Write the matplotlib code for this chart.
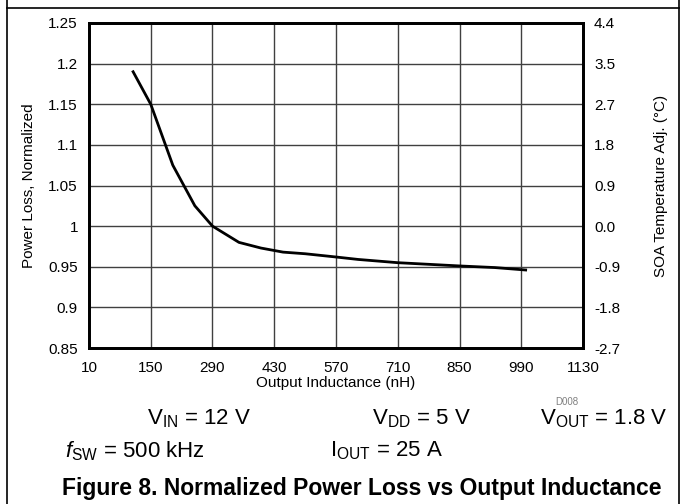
import matplotlib
matplotlib.use("Agg")
from matplotlib import pyplot as plt
from matplotlib.lines import Line2D

plt.rcParams['font.family'] = ['Liberation Sans', 'DejaVu Sans']
plt.rcParams['mathtext.fontset'] = 'custom'
plt.rcParams['mathtext.rm'] = 'Liberation Sans'
plt.rcParams['mathtext.it'] = 'Liberation Sans:italic'

# data
inductance = [110, 150, 200, 250, 290, 350, 400, 450, 500, 570, 620, 710, 850, 930, 1000]
power_loss = [1.19, 1.15, 1.075, 1.025, 1.0, 0.98, 0.973, 0.968, 0.966, 0.962, 0.959,
              0.955, 0.951, 0.949, 0.946]

x_ticks = [10, 150, 290, 430, 570, 710, 850, 990, 1130]
y_ticks = [0.85, 0.9, 0.95, 1.0, 1.05, 1.1, 1.15, 1.2, 1.25]
y_labels = ["0.85", "0.9", "0.95", "1", "1.05", "1.1", "1.15", "1.2", "1.25"]
temp_labels = ["-2.7", "-1.8", "-0.9", "0.0", "0.9", "1.8", "2.7", "3.5", "4.4"]

fig = plt.figure(figsize=(6.81, 5.04), dpi=100)
W, H = 681.0, 504.0
ax = fig.add_axes([89 / W, 1 - 348 / H, (583 - 89) / W, (348 - 23) / H])

ax.plot(inductance, power_loss, color="#000000", linewidth=2, solid_joinstyle="round")
ax.set_xlim(10, 1130)
ax.set_ylim(0.85, 1.25)
ax.set_xticks(x_ticks)
ax.set_yticks(y_ticks)
ax.set_yticklabels(y_labels)
ax.grid(True, color="#404040", linewidth=1)
ax.tick_params(length=0, labelsize=11)
ax.tick_params(axis="x", pad=9)
ax.tick_params(axis="y", pad=8)
for s in ax.spines.values():
    s.set_linewidth(2)
ax.set_xlabel("Output Inductance (nH)", fontsize=11, labelpad=1)
ax.set_ylabel("Power Loss, Normalized", fontsize=11, labelpad=9)

ax2 = ax.twinx()
ax2.set_ylim(0.85, 1.25)
ax2.set_yticks(y_ticks)
ax2.set_yticklabels(temp_labels)
ax2.tick_params(length=0, labelsize=11, pad=8)
for s in ax2.spines.values():
    s.set_linewidth(2)
ax2.set_ylabel("SOA Temperature Adj. (\u00b0C)", fontsize=11, labelpad=24)

fig.text(555 / W, 1 - 402 / H, "D008", fontsize=7, color="#808080", ha="left", va="center")

cond = dict(fontsize=16, va="center", ha="left")
fig.text(147 / W, 1 - 419 / H, r"V$_{\mathrm{IN}}$ = 12 V", **cond)
fig.text(372 / W, 1 - 419 / H, r"V$_{\mathrm{DD}}$ = 5 V", **cond)
fig.text(540 / W, 1 - 419 / H, r"V$_{\mathrm{OUT}}$ = 1.8 V", **cond)
fig.text(65 / W, 1 - 451 / H, r"$f$$_{\mathrm{SW}}$ = 500 kHz", **cond)
fig.text(330 / W, 1 - 451 / H, r"I$_{\mathrm{OUT}}$ = 25 A", **cond)

fig.text(362 / W, 1 - 488 / H, "Figure 8. Normalized Power Loss vs Output Inductance",
         fontsize=16.5, fontweight="bold", ha="center", va="center")

# page frame
fig.add_artist(Line2D([7 / W, 679 / W], [1 - 8 / H, 1 - 8 / H], color="black", linewidth=1.2))
fig.add_artist(Line2D([7 / W, 7 / W], [0, 1], color="black", linewidth=1.2))
fig.add_artist(Line2D([679 / W, 679 / W], [0, 1], color="black", linewidth=1.2))

fig.savefig("out.png", dpi=100)
